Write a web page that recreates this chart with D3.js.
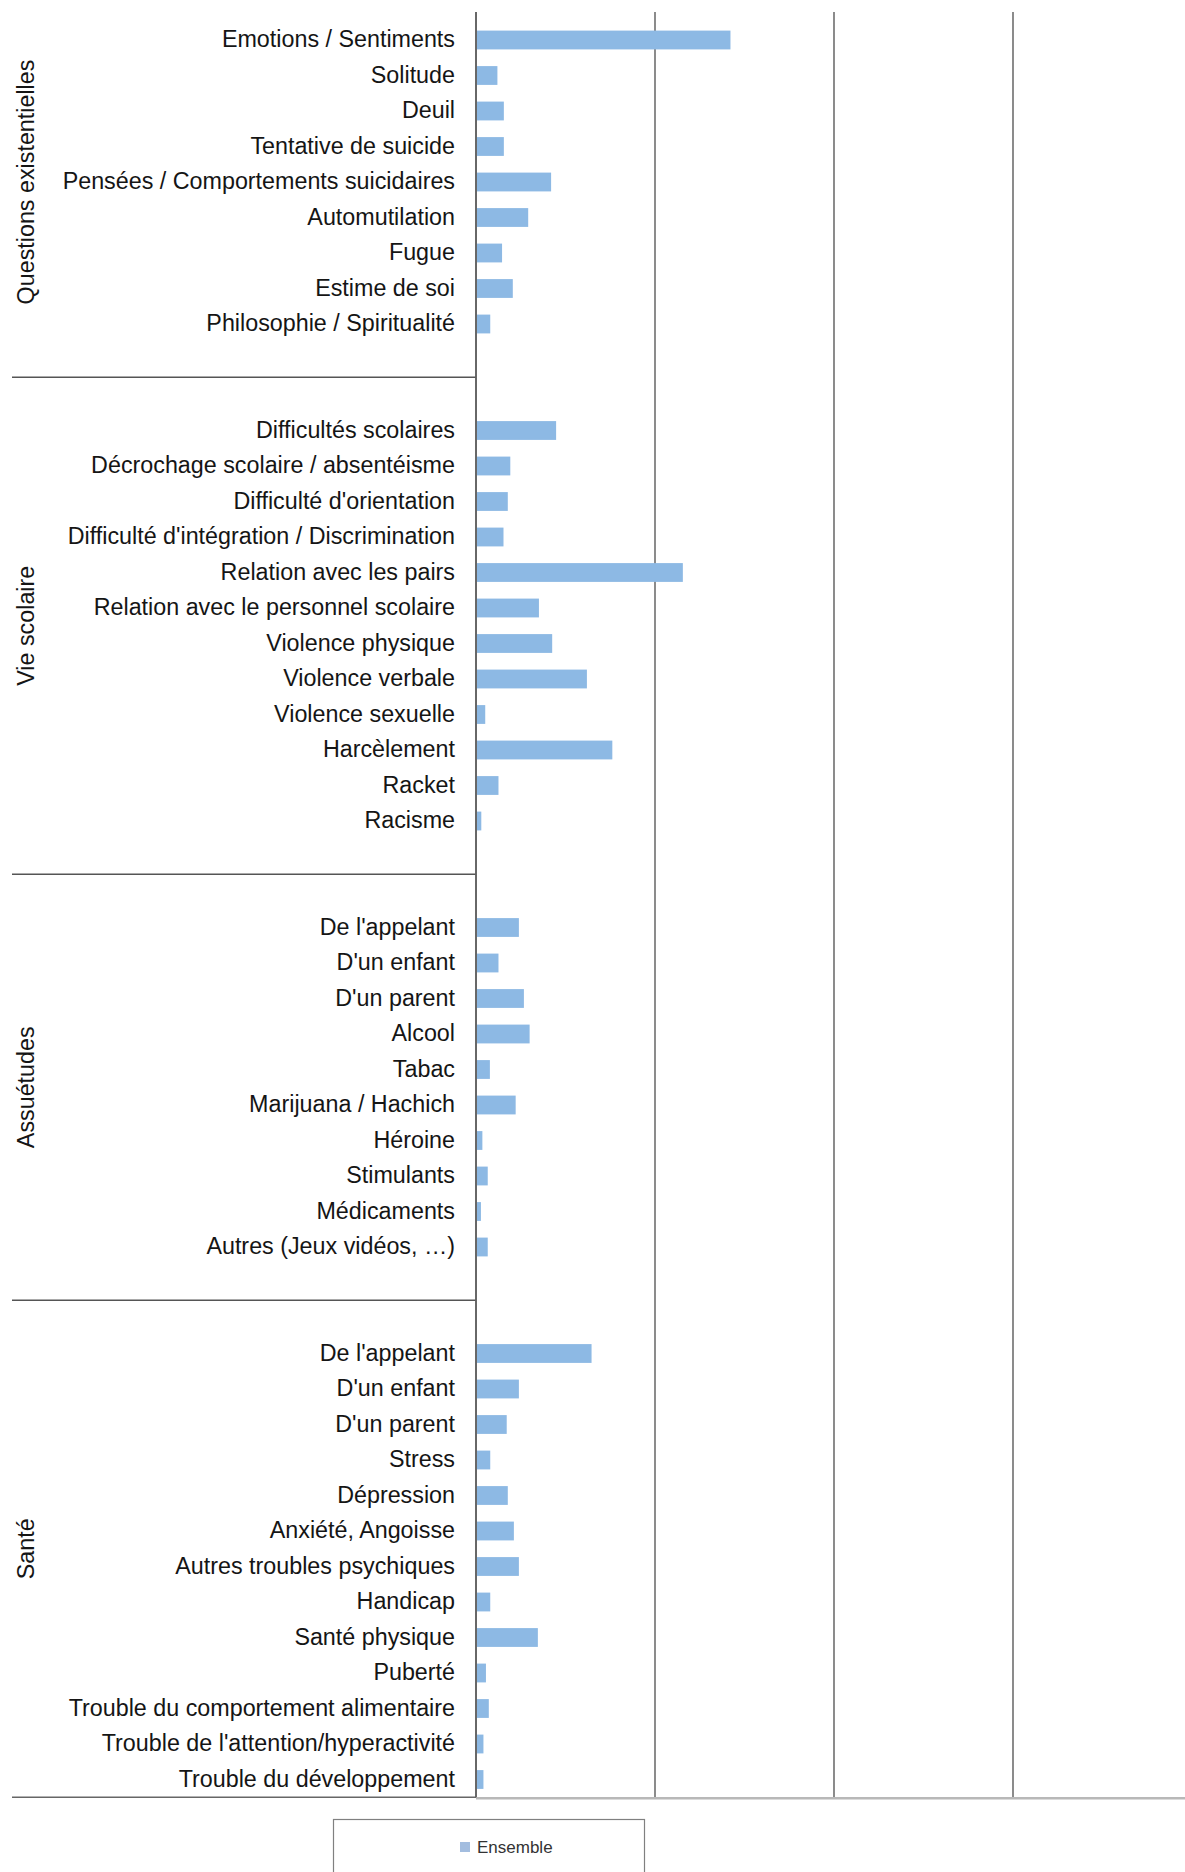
<!DOCTYPE html>
<html>
<head>
<meta charset="utf-8">
<script src="https://cdn.jsdelivr.net/npm/d3@7"></script>
<style>
  body { margin: 0; background: #fff; }
  svg { display: block; font-family: "Liberation Sans", Arial, sans-serif; }
</style>
</head>
<body>
<div id="chart_div"></div>
<script>
const groupNames = ["Questions existentielles", "Vie scolaire", "Assuétudes", "Santé"];

const questionsLabels = ["Emotions / Sentiments", "Solitude", "Deuil", "Tentative de suicide",
    "Pensées / Comportements suicidaires", "Automutilation", "Fugue", "Estime de soi",
    "Philosophie / Spiritualité"];
const questionsValues = [7.08, 0.57, 0.75, 0.75, 2.07, 1.43, 0.70, 1.00, 0.37];

const scolaireLabels = ["Difficultés scolaires", "Décrochage scolaire / absentéisme",
    "Difficulté d'orientation", "Difficulté d'intégration / Discrimination",
    "Relation avec les pairs", "Relation avec le personnel scolaire", "Violence physique",
    "Violence verbale", "Violence sexuelle", "Harcèlement", "Racket", "Racisme"];
const scolaireValues = [2.21, 0.93, 0.86, 0.74, 5.75, 1.73, 2.10, 3.07, 0.23, 3.78, 0.60, 0.12];

const assuetudesLabels = ["De l'appelant", "D'un enfant", "D'un parent", "Alcool", "Tabac",
    "Marijuana / Hachich", "Héroine", "Stimulants", "Médicaments", "Autres (Jeux vidéos, …)"];
const assuetudesValues = [1.17, 0.60, 1.31, 1.47, 0.36, 1.08, 0.15, 0.30, 0.11, 0.30];

const santeLabels = ["De l'appelant", "D'un enfant", "D'un parent", "Stress", "Dépression",
    "Anxiété, Angoisse", "Autres troubles psychiques", "Handicap", "Santé physique", "Puberté",
    "Trouble du comportement alimentaire", "Trouble de l'attention/hyperactivité",
    "Trouble du développement"];
const santeValues = [3.20, 1.17, 0.83, 0.37, 0.86, 1.03, 1.17, 0.37, 1.70, 0.25, 0.33, 0.18, 0.18];

const gridTicks = [0, 5, 10, 15];
const legendLabel = "Ensemble";

const width = 1185;
const height = 1872;
const axisX = 476;
const plotTop = 12;
const plotBottom = 1797.25;
const leftEdge = 12;

// build the category slots, with an empty slot on each side of a group (Excel style)
const groupsData = [
    [questionsLabels, questionsValues],
    [scolaireLabels, scolaireValues],
    [assuetudesLabels, assuetudesValues],
    [santeLabels, santeValues]
];
const slots = [];
const spans = [];
groupsData.forEach(([labels, values], gi) => {
    const first = slots.length;
    slots.push({ key: `g${gi}-pre`, label: "", value: null });
    labels.forEach((l, i) => slots.push({ key: `g${gi}-${i}`, label: l, value: values[i] }));
    if (gi < groupsData.length - 1) slots.push({ key: `g${gi}-post`, label: "", value: null });
    spans.push({ name: groupNames[gi], first: slots[first].key, last: slots[slots.length - 1].key });
});

const svg = d3.select("#chart_div")
    .append("svg")
    .attr("width", width)
    .attr("height", height);

const x = d3.scaleLinear()
    .domain([0, 20])
    .range([axisX, 1192]);

const y = d3.scaleBand()
    .domain(slots.map(d => d.key))
    .range([-13.25, plotBottom])
    .paddingInner(0.47)
    .paddingOuter(0.235);

// vertical gridlines
svg.append("g")
    .selectAll("line")
    .data(gridTicks)
    .enter()
    .append("line")
    .attr("x1", d => x(d))
    .attr("x2", d => x(d))
    .attr("y1", plotTop)
    .attr("y2", plotBottom)
    .attr("stroke", "#6f6f6f")
    .attr("stroke-width", 1.6);

// bars
svg.append("g")
    .selectAll("rect")
    .data(slots.filter(d => d.value !== null))
    .enter()
    .append("rect")
    .attr("x", x(0) + 1)
    .attr("y", d => y(d.key))
    .attr("width", d => x(d.value) - x(0))
    .attr("height", y.bandwidth())
    .attr("fill", "#8db9e4");

// category labels
const labelOf = new Map(slots.map(d => [d.key, d.label]));
const yAxis = svg.append("g")
    .attr("transform", `translate(${axisX},0)`)
    .call(d3.axisLeft(y).tickSize(0).tickPadding(21).tickFormat(k => labelOf.get(k)));
yAxis.select(".domain").remove();
yAxis.selectAll("text")
    .attr("font-size", 23.3)
    .attr("font-family", "'Liberation Sans', Arial, sans-serif")
    .attr("fill", "#151515");

// group separators
const step = y.step();
const bounds = spans.map(s => ({
    name: s.name,
    top: y(s.first) - y.paddingOuter() * step,
    bottom: y(s.last) - y.paddingOuter() * step + step
}));

svg.append("g")
    .selectAll("line")
    .data(bounds.slice(0, -1))
    .enter()
    .append("line")
    .attr("x1", leftEdge)
    .attr("x2", axisX)
    .attr("y1", d => d.bottom)
    .attr("y2", d => d.bottom)
    .attr("stroke", "#555")
    .attr("stroke-width", 1.6);

// group labels
svg.append("g")
    .selectAll("text")
    .data(bounds)
    .enter()
    .append("text")
    .attr("transform", d => `translate(26,${(d.top + d.bottom) / 2}) rotate(-90)`)
    .attr("text-anchor", "middle")
    .attr("dominant-baseline", "central")
    .attr("font-size", 23.3)
    .attr("fill", "#151515")
    .text(d => d.name);

// bottom line
svg.append("line")
    .attr("x1", axisX).attr("x2", width)
    .attr("y1", plotBottom + 1).attr("y2", plotBottom + 1)
    .attr("stroke", "#b8b8b8")
    .attr("stroke-width", 2.5);
svg.append("line")
    .attr("x1", leftEdge).attr("x2", axisX)
    .attr("y1", plotBottom).attr("y2", plotBottom)
    .attr("stroke", "#666")
    .attr("stroke-width", 1.6);

// category axis line
svg.append("line")
    .attr("x1", axisX).attr("x2", axisX)
    .attr("y1", plotTop).attr("y2", plotBottom)
    .attr("stroke", "#5f5f5f")
    .attr("stroke-width", 1.6);

// legend
const legend = svg.append("g");
legend.append("rect")
    .attr("x", 333.5).attr("y", 1819.5)
    .attr("width", 311).attr("height", 80)
    .attr("fill", "#fff")
    .attr("stroke", "#808080")
    .attr("stroke-width", 1.2);
legend.append("rect")
    .attr("x", 460).attr("y", 1842)
    .attr("width", 10).attr("height", 10)
    .attr("fill", "#a3bddf");
legend.append("text")
    .attr("x", 477).attr("y", 1847)
    .attr("dominant-baseline", "central")
    .attr("font-size", 17)
    .attr("fill", "#333")
    .text(legendLabel);
</script>
</body>
</html>
